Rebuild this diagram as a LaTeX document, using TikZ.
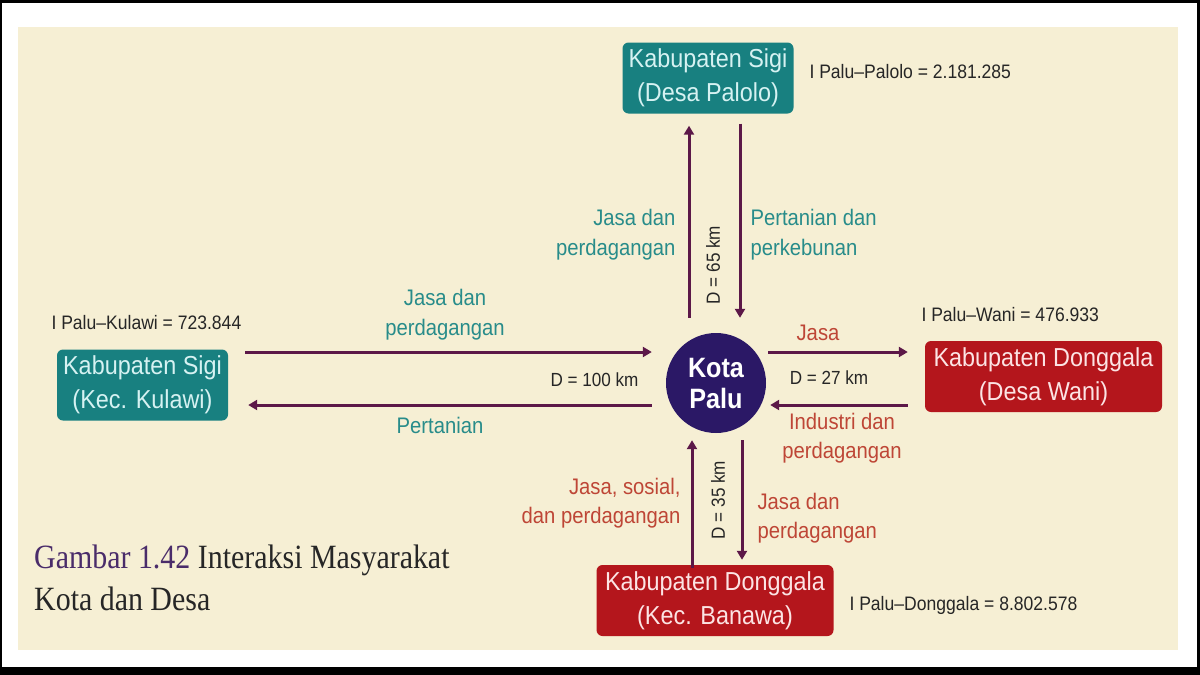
\documentclass[tikz,border=0pt]{standalone}
\usepackage{fontspec}
\setmainfont{Liberation Serif}
\newfontfamily\boxfont[FakeStretch=0.9]{Liberation Sans}
\newfontfamily\capfont[FakeStretch=0.88]{Liberation Serif}
\usetikzlibrary{positioning,arrows.meta,calc}

\definecolor{cream}{RGB}{246,239,212}
\definecolor{sigiteal}{RGB}{24,128,128}
\definecolor{sigitext}{RGB}{214,242,242}
\definecolor{donggalared}{RGB}{180,22,28}
\definecolor{donggalatext}{RGB}{252,228,228}
\definecolor{palupurple}{RGB}{43,24,102}
\definecolor{flowpurple}{RGB}{92,24,72}
\definecolor{labelteal}{RGB}{40,140,138}
\definecolor{labelred}{RGB}{190,70,54}
\definecolor{captionpurple}{RGB}{74,44,106}

\tikzset{
    every node/.style={font=\boxfont},
    area box/.style={rounded corners=6pt, minimum width=171pt, minimum height=71pt,
        align=center, inner sep=0pt, font=\boxfont\fontsize{26}{34}\selectfont},
    sigi box/.style={area box, fill=sigiteal, text=sigitext},
    donggala box/.style={area box, fill=donggalared, text=donggalatext, minimum width=237pt},
    flow/.style={draw=flowpurple, line width=3pt, -{Triangle[length=9pt,width=10pt]}},
    teal label/.style={text=labelteal, font=\boxfont\fontsize{22.5}{30}\selectfont},
    red label/.style={text=labelred, font=\boxfont\fontsize{22.5}{29}\selectfont},
    index label/.style={text=black!85, anchor=west, font=\boxfont\fontsize{19.5}{20}\selectfont},
    dist label/.style={text=black!85, font=\boxfont\fontsize{19}{20}\selectfont}
}

\begin{document}
\begin{tikzpicture}[x=1pt, y=-1pt]

    % frame and panel
    \fill[black] (0,0) rectangle (1200,675);
    \fill[white] (2,3) rectangle (1197,667);
    \fill[cream] (18,27) rectangle (1178,650);
    \useasboundingbox (0,0) rectangle (1200,675);

    % city and regions
    \node[circle, fill=palupurple, text=white, minimum size=100pt, inner sep=0pt, align=center,
        font=\boxfont\bfseries\fontsize{28}{31}\selectfont] (palu) at (716,383) {Kota\\Palu};
    \node[sigi box] (palolo) at (708,78) {Kabupaten Sigi\\(Desa Palolo)};
    \node[sigi box] (kulawi) at (142.5,385) {Kabupaten Sigi\\(Kec. Kulawi)};
    \node[donggala box] (wani) at (1043.5,376.5) {Kabupaten Donggala\\(Desa Wani)};
    \node[donggala box] (banawa) at (715,600.5) {Kabupaten Donggala\\(Kec. Banawa)};

    % flows
    \draw[flow, shorten >=12pt] ([xshift=-27pt,yshift=15pt]palu.north) coordinate (p1) -- (p1 |- palolo.south);
    \draw[flow, shorten >=15pt] ([xshift=32pt,yshift=-10pt]palolo.south) coordinate (p2) -- (p2 |- palu.north);
    \draw[flow, shorten >=14pt] ([xshift=17pt,yshift=33pt]kulawi.east) coordinate (k1) -- (k1 -| palu.west);
    \draw[flow, shorten >=20pt] ([xshift=-14pt,yshift=-22pt]palu.west) coordinate (k2) -- (k2 -| kulawi.east);
    \draw[flow, shorten >=17pt] ([xshift=2pt,yshift=31pt]palu.east) coordinate (w1) -- (w1 -| wani.west);
    \draw[flow, shorten >=4pt] ([xshift=-17pt,yshift=-28.5pt]wani.west) coordinate (w2) -- (w2 -| palu.east);
    \draw[flow, shorten >=7pt] ([xshift=-23pt,yshift=-3pt]banawa.north) coordinate (b1) -- (b1 |- palu.south);
    \draw[flow, shorten >=5pt] ([xshift=26pt,yshift=-7pt]palu.south) coordinate (b2) -- (b2 |- banawa.north);

    % flow labels
    \node[teal label, align=right, anchor=east] (palolo in) at (679,235) {Jasa dan\\perdagangan};
    \node[teal label, align=left, anchor=west] (palolo out) at (747,235) {Pertanian dan\\perkebunan};
    \node[dist label, rotate=90] (palolo dist) at (713,265) {D = 65 km};
    \node[teal label, align=center] (kulawi out) at (445,315) {Jasa dan\\perdagangan};
    \node[dist label, anchor=east] (kulawi dist) at (642,380) {D = 100 km};
    \node[teal label] (kulawi in) at (440,425) {Pertanian};
    \node[red label] (wani out) at (818,333) {Jasa};
    \node[dist label] (wani dist) at (829,378) {D = 27 km};
    \node[red label, align=center] (wani in) at (842,438) {Industri dan\\perdagangan};
    \node[red label, align=right, anchor=east] (banawa in) at (684,503) {Jasa, sosial,\\dan perdagangan};
    \node[dist label, rotate=90] (banawa dist) at (718,500) {D = 35 km};
    \node[red label, align=left, anchor=west] (banawa out) at (754,518) {Jasa dan\\perdagangan};

    % interaction index
    \node[index label] (palolo idx) at (806,72) {I Palu–Palolo = 2.181.285};
    \node[index label] (kulawi idx) at (48,323) {I Palu–Kulawi = 723.844};
    \node[index label] (wani idx) at (918,315) {I Palu–Wani = 476.933};
    \node[index label] (banawa idx) at (846,605) {I Palu–Donggala = 8.802.578};

    % caption
    \node[anchor=north west, align=left, inner sep=0pt, text=black!85,
        font=\capfont\fontsize{34}{42}\selectfont] (caption) at (34,545)
        {\textcolor{captionpurple}{Gambar 1.42} Interaksi Masyarakat\\Kota dan Desa};

\end{tikzpicture}
\end{document}
